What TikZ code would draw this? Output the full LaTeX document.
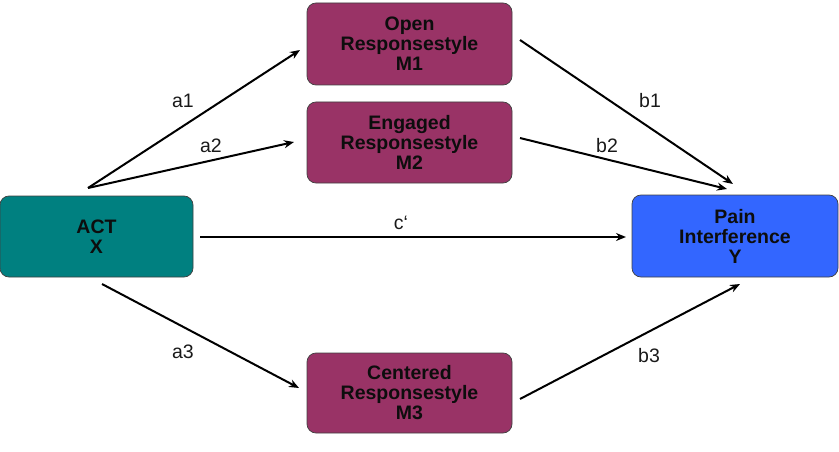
\documentclass[tikz,border=0pt]{standalone}
\usepackage{fontspec}
\setmainfont{Liberation Sans}
\usetikzlibrary{arrows.meta}
\definecolor{actcol}{HTML}{008080}
\definecolor{medcol}{HTML}{993366}
\definecolor{ycol}{HTML}{3366FF}
\begin{document}
\begin{tikzpicture}[x=1pt,y=-1pt,
  box/.style={draw=black!75, line width=0.7pt, rounded corners=9pt, inner sep=0pt,
    align=center, font=\fontsize{19.5}{20}\selectfont\bfseries, text=black!95},
  arr/.style={-{Stealth[length=10pt,width=8pt]}, line width=2pt},
  lab/.style={font=\fontsize{19.5}{20}\selectfont, text=black!90}]
\useasboundingbox (0,0) rectangle (839,452);
\node[box, fill=actcol, minimum width=193pt, minimum height=81pt] (act) at (96.5,236.5) {ACT\\X};
\node[box, fill=medcol, minimum width=205pt, minimum height=82pt] (m1) at (409.5,44) {Open\\Responsestyle\\M1};
\node[box, fill=medcol, minimum width=205pt, minimum height=81pt] (m2) at (409.5,142.5) {Engaged\\Responsestyle\\M2};
\node[box, fill=medcol, minimum width=205pt, minimum height=80pt] (m3) at (409.5,393) {Centered\\Responsestyle\\M3};
\node[box, fill=ycol, minimum width=206pt, minimum height=82pt] (y) at (735,236) {Pain\\Interference\\Y};
\coordinate (sa) at (88,188);
\coordinate (ea1) at (300,50);
\coordinate (ea2) at (294,142);
\coordinate (sc) at (200,237);
\coordinate (ec) at (626,237);
\coordinate (sa3) at (102,284);
\coordinate (ea3) at (299,388);
\coordinate (sb1) at (520,40);
\coordinate (eb1) at (733,184);
\coordinate (sb2) at (520,138);
\coordinate (eb2) at (727,189);
\coordinate (sb3) at (520,399);
\coordinate (eb3) at (740,284);
\draw[arr] (sa) -- (ea1);
\draw[arr] (sa) -- (ea2);
\draw[arr] (sc) -- (ec);
\draw[arr] (sa3) -- (ea3);
\draw[arr] (sb1) -- (eb1);
\draw[arr] (sb2) -- (eb2);
\draw[arr] (sb3) -- (eb3);
\node[lab] (la1) at (183,101) {a1};
\node[lab] (la2) at (211,146) {a2};
\node[lab] (lb1) at (650,101) {b1};
\node[lab] (lb2) at (607,146) {b2};
\node[lab] (lc) at (401,223) {c‘};
\node[lab] (la3) at (183,352) {a3};
\node[lab] (lb3) at (649,356) {b3};
\end{tikzpicture}
\end{document}
